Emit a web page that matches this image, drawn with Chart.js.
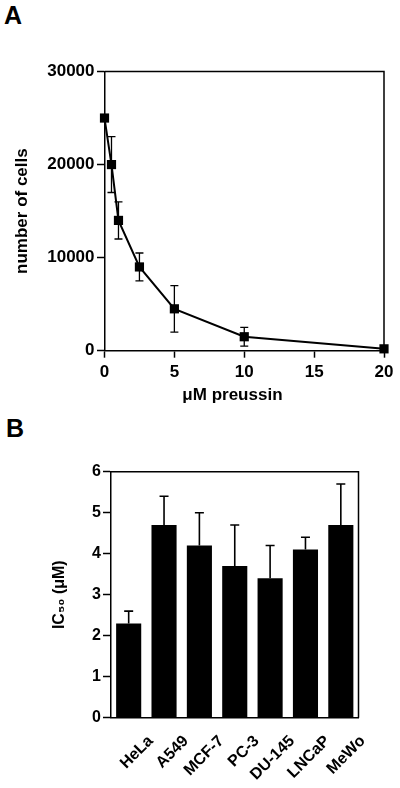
<!DOCTYPE html>
<html>
<head>
<meta charset="utf-8">
<script src="https://cdn.jsdelivr.net/npm/chart.js@4.4.1/dist/chart.umd.min.js"></script>
<style>
  html, body { margin: 0; padding: 0; background: #fff; }
  body { width: 400px; height: 788px; position: relative; overflow: hidden; }
  .panel { position: absolute; left: 0; }
  .lbl { position: absolute; font-family: 'Liberation Sans', Arial, sans-serif; font-weight: bold; font-size: 25px; color: #000; line-height: 1; }
</style>
</head>
<body>
<div class="lbl" style="left:4px; top:3px;">A</div>
<div class="lbl" style="left:6px; top:416px;">B</div>
<canvas id="chartA" class="panel" style="top:0" width="400" height="410"></canvas>
<canvas id="chartB" class="panel" style="top:410px" width="400" height="378"></canvas>
<script>
// ---- Panel A data ----
const doseUM = [0, 0.5, 1, 2.5, 5, 10, 20];
const cellCounts = [25000, 20000, 14000, 9000, 4500, 1500, 200];
const cellCountErr = [0, 3000, 2000, 1500, 2500, 1000, 0];
const xTicksA = [0, 5, 10, 15, 20];
const yTicksA = [0, 10000, 20000, 30000];

// ---- Panel B data ----
const cellLines = ['HeLa', 'A549', 'MCF-7', 'PC-3', 'DU-145', 'LNCaP', 'MeWo'];
const ic50 = [2.3, 4.7, 4.2, 3.7, 3.4, 4.1, 4.7];
const ic50Err = [0.3, 0.7, 0.8, 1.0, 0.8, 0.3, 1.0];
const yTicksB = [0, 1, 2, 3, 4, 5, 6];

Chart.defaults.font.family = "'Liberation Sans', Arial, Helvetica, sans-serif";
Chart.defaults.font.weight = 'bold';
Chart.defaults.color = '#000';

const plainNum = v => String(v);

const framePlugin = {
  id: 'frame',
  afterDraw(chart) {
    const a = chart.chartArea, ctx = chart.ctx;
    ctx.save();
    ctx.strokeStyle = '#000';
    ctx.lineWidth = 1.5;
    ctx.beginPath();
    ctx.moveTo(a.left, a.top);
    ctx.lineTo(a.right, a.top);
    ctx.lineTo(a.right, a.bottom);
    ctx.stroke();
    ctx.restore();
  }
};

const errA = {
  id: 'errA',
  beforeDatasetsDraw(chart) {
    const ctx = chart.ctx, xs = chart.scales.x, ys = chart.scales.y;
    ctx.save();
    ctx.strokeStyle = '#000';
    ctx.lineWidth = 1.3;
    doseUM.forEach((d, i) => {
      const e = cellCountErr[i];
      if (!e) return;
      const px = xs.getPixelForValue(d);
      const t = ys.getPixelForValue(cellCounts[i] + e);
      const b = ys.getPixelForValue(cellCounts[i] - e);
      ctx.beginPath();
      ctx.moveTo(px, t); ctx.lineTo(px, b);
      ctx.moveTo(px - 4, t); ctx.lineTo(px + 4, t);
      ctx.moveTo(px - 4, b); ctx.lineTo(px + 4, b);
      ctx.stroke();
    });
    ctx.restore();
  }
};

const errB = {
  id: 'errB',
  afterDatasetsDraw(chart) {
    const ctx = chart.ctx, ys = chart.scales.y;
    const meta = chart.getDatasetMeta(0);
    ctx.save();
    ctx.strokeStyle = '#000';
    ctx.lineWidth = 1.6;
    meta.data.forEach((bar, i) => {
      const px = bar.x;
      const t = ys.getPixelForValue(ic50[i] + ic50Err[i]);
      const b = ys.getPixelForValue(ic50[i]);
      ctx.beginPath();
      ctx.moveTo(px, t); ctx.lineTo(px, b);
      ctx.moveTo(px - 4.5, t); ctx.lineTo(px + 4.5, t);
      ctx.stroke();
    });
    ctx.restore();
  }
};

new Chart(document.getElementById('chartA'), {
  type: 'line',
  data: {
    datasets: [{
      data: doseUM.map((d, i) => ({ x: d, y: cellCounts[i] })),
      borderColor: '#000',
      borderWidth: 2,
      backgroundColor: '#000',
      pointStyle: 'rect',
      pointRadius: 6.5,
      pointBorderWidth: 0,
      pointBackgroundColor: '#000',
      tension: 0,
      clip: false
    }]
  },
  options: {
    responsive: false,
    animation: false,
    events: [],
    layout: { padding: { top: 71.5, right: 16, left: 0, bottom: 0 } },
    plugins: { legend: { display: false }, tooltip: { enabled: false } },
    scales: {
      x: {
        type: 'linear',
        min: 0, max: 20,
        afterFit: s => { s.height = 59.3; },
        afterBuildTicks: s => { s.ticks = xTicksA.map(v => ({ value: v })); },
        ticks: { font: { size: 17, weight: 'bold' }, color: '#000', padding: 4, maxRotation: 0, callback: plainNum },
        grid: { drawOnChartArea: false, drawTicks: true, tickLength: 7, tickColor: '#000', tickWidth: 1.5 },
        border: { color: '#000', width: 1.5 },
        title: { display: true, text: 'μM preussin     ', font: { size: 17, weight: 'bold' }, color: '#000', padding: { top: 0, bottom: 4 } }
      },
      y: {
        type: 'linear',
        min: 0, max: 30000,
        afterFit: s => { s.width = 104.5; },
        afterBuildTicks: s => { s.ticks = yTicksA.map(v => ({ value: v })); },
        ticks: { font: { size: 17, weight: 'bold' }, color: '#000', padding: 2.5, callback: plainNum },
        grid: { drawOnChartArea: false, drawTicks: true, tickLength: 7.5, tickColor: '#000', tickWidth: 1.5 },
        border: { color: '#000', width: 1.5 },
        title: { display: true, text: 'number of cells', font: { size: 17, weight: 'bold' }, color: '#000', padding: { top: 12, bottom: 0 } }
      }
    }
  },
  plugins: [errA, framePlugin]
});

new Chart(document.getElementById('chartB'), {
  type: 'bar',
  data: {
    labels: cellLines,
    datasets: [{
      data: ic50,
      backgroundColor: '#000',
      borderWidth: 0,
      categoryPercentage: 1,
      barPercentage: 0.71
    }]
  },
  options: {
    responsive: false,
    animation: false,
    events: [],
    layout: { padding: { top: 61.7, right: 41.5, left: 0, bottom: 0 } },
    plugins: { legend: { display: false }, tooltip: { enabled: false } },
    scales: {
      x: {
        afterFit: s => { s.height = 70.3; },
        ticks: { font: { size: 16, weight: 'bold' }, color: '#000', minRotation: 45, maxRotation: 45, autoSkip: false, padding: 14, labelOffset: 22 },
        grid: { display: true, drawOnChartArea: false, drawTicks: false },
        border: { color: '#000', width: 1.5 }
      },
      y: {
        min: 0, max: 6,
        afterFit: s => { s.width = 111; },
        afterBuildTicks: s => { s.ticks = yTicksB.map(v => ({ value: v })); },
        ticks: { font: { size: 16, weight: 'bold' }, color: '#000', padding: 2, callback: plainNum },
        grid: { drawOnChartArea: false, drawTicks: true, tickLength: 8, tickColor: '#000', tickWidth: 1.5 },
        border: { color: '#000', width: 1.5 },
        title: { display: true, text: 'IC₅₀ (μM)', font: { size: 16, weight: 'bold' }, color: '#000', padding: { top: 50, bottom: 0 } }
      }
    }
  },
  plugins: [errB, framePlugin]
});
</script>
</body>
</html>
